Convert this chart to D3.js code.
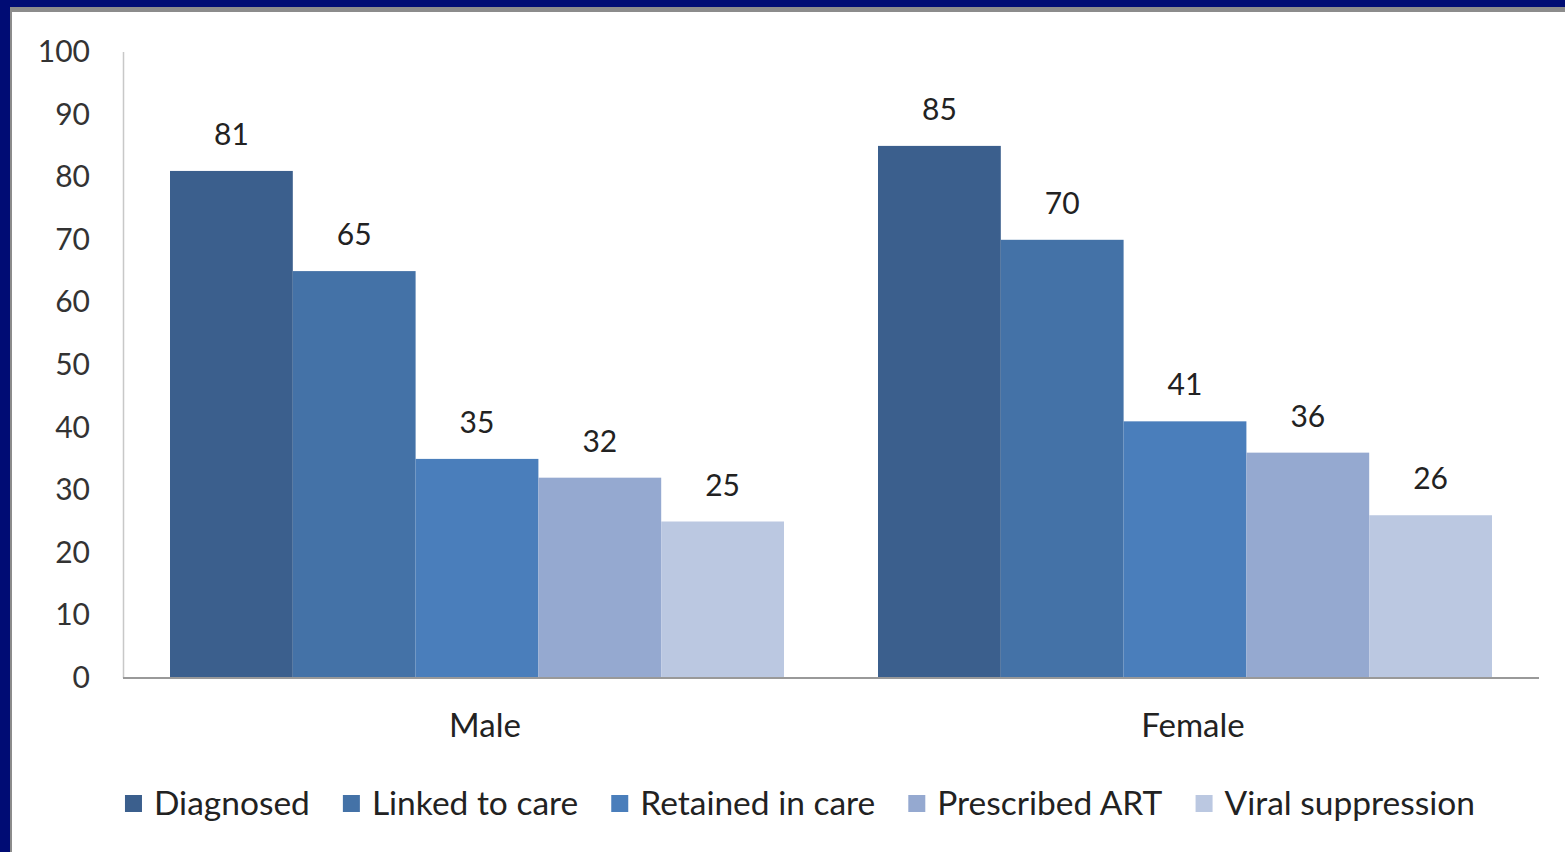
<!DOCTYPE html>
<html>
<head>
<meta charset="utf-8">
<script src="https://cdn.jsdelivr.net/npm/d3@7"></script>
<style>
  html, body { margin: 0; padding: 0; background: #fff; }
  svg { display: block; }
</style>
</head>
<body>
<svg width="1565" height="852"></svg>
<script>
// categories and series
var groups = ["Male", "Female"];
var series = ["Diagnosed", "Linked to care", "Retained in care", "Prescribed ART", "Viral suppression"];
var male = [81, 65, 35, 32, 25];
var female = [85, 70, 41, 36, 26];
var yTicks = [0, 10, 20, 30, 40, 50, 60, 70, 80, 90, 100];

var colors = ["#3b5f8d", "#4472a7", "#4a7ebb", "#95a9d0", "#bbc8e1"];
var font = "Lato, 'Liberation Sans', sans-serif";

var svg = d3.select("svg");

// frame
svg.append("rect").attr("x", 0).attr("y", 0).attr("width", 1565).attr("height", 852).attr("fill", "#fff");
svg.append("rect").attr("x", 0).attr("y", 7).attr("width", 1565).attr("height", 5).attr("fill", "#8c8c8c");
svg.append("rect").attr("x", 10).attr("y", 0).attr("width", 2).attr("height", 852).attr("fill", "#8c8c8c");
svg.append("rect").attr("x", 0).attr("y", 0).attr("width", 1565).attr("height", 7).attr("fill", "#000c74");
svg.append("rect").attr("x", 0).attr("y", 0).attr("width", 10).attr("height", 852).attr("fill", "#000c74");

var plotLeft = 123, plotRight = 1539, plotTop = 52, plotBottom = 678;

var y = d3.scaleLinear().domain([0, 100]).range([plotBottom, plotTop]);
var x0 = d3.scaleBand().domain(groups).range([plotLeft, plotRight]);
var x1 = d3.scaleBand().domain(series).range([47, x0.bandwidth() - 47]);

var data = groups.map(function (g, i) {
  var vals = i == 0 ? male : female;
  return { group: g, values: series.map(function (s, j) { return { key: s, value: vals[j], color: colors[j] }; }) };
});

// y axis line
svg.append("line")
  .attr("x1", plotLeft + 0.5).attr("x2", plotLeft + 0.5)
  .attr("y1", plotTop).attr("y2", plotBottom)
  .attr("stroke", "#c8c8c8").attr("stroke-width", 1.5);

// y tick labels
svg.selectAll(".ytick")
  .data(yTicks)
  .enter()
  .append("text")
  .attr("class", "ytick")
  .attr("x", 90)
  .attr("y", function (d) { return y(d); })
  .attr("dy", "0.33em")
  .attr("text-anchor", "end")
  .attr("font-family", font)
  .style("font-size", "30px")
  .attr("fill", "#333")
  .text(function (d) { return d; });

// bars
var gs = svg.selectAll(".grp")
  .data(data)
  .enter()
  .append("g")
  .attr("class", "grp")
  .attr("transform", function (d) { return "translate(" + x0(d.group) + ",0)"; });

gs.selectAll("rect")
  .data(function (d) { return d.values; })
  .enter()
  .append("rect")
  .attr("x", function (d) { return x1(d.key); })
  .attr("width", x1.bandwidth())
  .attr("y", function (d) { return y(d.value); })
  .attr("height", function (d) { return y(0) - y(d.value); })
  .attr("fill", function (d) { return d.color; });

// value labels
gs.selectAll(".val")
  .data(function (d) { return d.values; })
  .enter()
  .append("text")
  .attr("class", "val")
  .attr("x", function (d) { return x1(d.key) + x1.bandwidth() / 2; })
  .attr("y", function (d) { return y(d.value) - 26; })
  .attr("text-anchor", "middle")
  .attr("font-family", font)
  .style("font-size", "30px")
  .attr("fill", "#222")
  .text(function (d) { return d.value; });

// x axis line
svg.append("line")
  .attr("x1", plotLeft).attr("x2", plotRight)
  .attr("y1", plotBottom).attr("y2", plotBottom)
  .attr("stroke", "#999").attr("stroke-width", 2);

// category labels
svg.selectAll(".xlab")
  .data(groups)
  .enter()
  .append("text")
  .attr("class", "xlab")
  .attr("x", function (d) { return x0(d) + x0.bandwidth() / 2 + 8; })
  .attr("y", 737)
  .attr("text-anchor", "middle")
  .attr("font-family", font)
  .style("font-size", "33px")
  .attr("fill", "#222")
  .text(function (d) { return d; });

// legend
var legend = svg.append("g");
var items = legend.selectAll(".leg")
  .data(series)
  .enter()
  .append("g")
  .attr("class", "leg");

items.append("rect")
  .attr("width", 17).attr("height", 17)
  .attr("y", 795)
  .attr("fill", function (d, i) { return colors[i]; });

items.append("text")
  .attr("x", 29)
  .attr("y", 815)
  .attr("font-family", font)
  .style("font-size", "33.5px")
  .attr("fill", "#222")
  .text(function (d) { return d; });

// place legend items one after another, centred
var pos = 0, offs = [];
items.each(function () {
  offs.push(pos);
  pos += this.getBBox().width + 33;
});
pos -= 33;
var start = 800 - pos / 2;
items.attr("transform", function (d, i) { return "translate(" + (start + offs[i]) + ",0)"; });
</script>
</body>
</html>
